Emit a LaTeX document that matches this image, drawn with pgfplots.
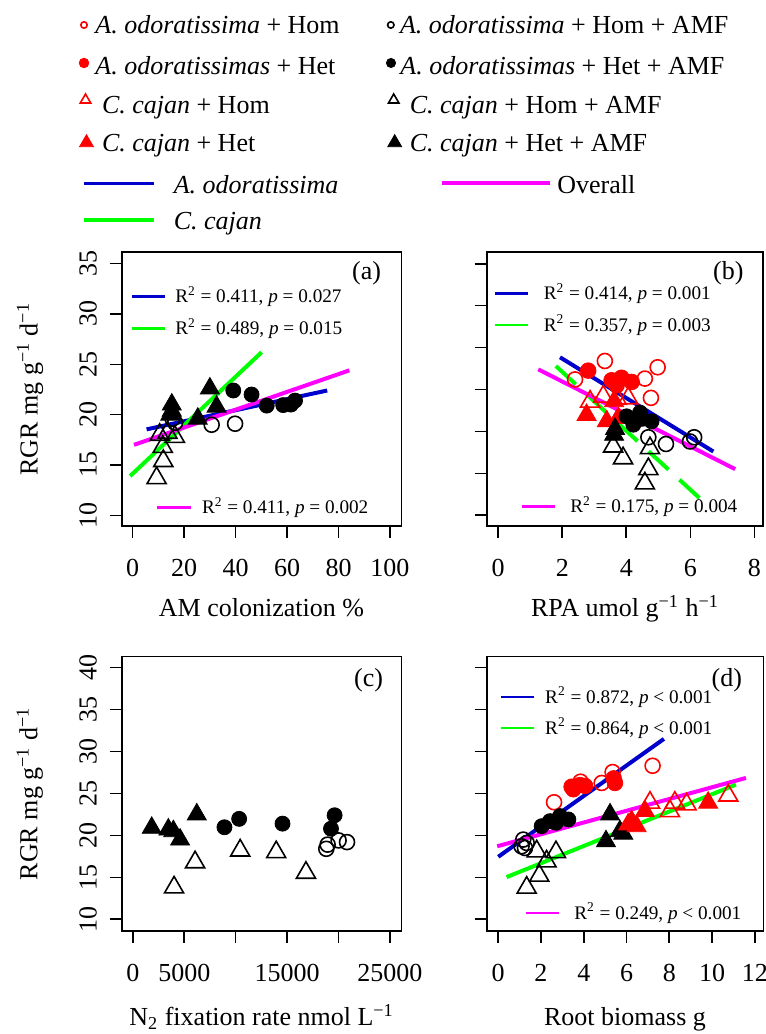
\documentclass[border=0pt]{standalone}
\usepackage{fontspec}
\setmainfont{Liberation Serif}
\usepackage{pgfplots}
\pgfplotsset{compat=1.18}
\definecolor{rblue}{RGB}{0,0,205}
\definecolor{rgreen}{RGB}{0,255,0}
\definecolor{rmag}{RGB}{255,0,255}
\definecolor{rred}{RGB}{255,0,0}
\newcommand{\bigf}{\fontsize{13}{15}\selectfont}
\newcommand{\smallf}{\fontsize{9.6}{11}\selectfont}
\pgfplotsset{
  panel/.style={scale only axis, anchor=south west, clip=false,
    tick align=outside, tick pos=left, major tick length=6pt,
    axis line style={line width=0.8pt}, every tick/.style={black, line width=0.8pt},
    ticklabel style={font=\bigf},
    /pgf/number format/assume math mode=true,
    scaled ticks=false,
    xticklabel style={anchor=base, yshift=-19.5pt},
    yticklabel style={xshift=-6.5pt, rotate=90, anchor=base},
    every axis y label/.style={at={(axis description cs:-0.328,0.5)}, rotate=90, anchor=center, font=\bigf},
  },
  xlab/.style={every axis x label/.style={at={(axis description cs:0.5,#1)}, anchor=base, font=\bigf}},
  aoHom/.style={only marks, mark=o, mark size=3.75pt, color=rred, mark options={line width=0.8pt}},
  aoHet/.style={only marks, mark=*, mark size=3.9pt, color=rred},
  ccHom/.style={only marks, mark=triangle, mark size=5.5pt, color=rred, mark options={line width=0.8pt}},
  ccHet/.style={only marks, mark=triangle*, mark size=5.5pt, color=rred},
  aoHomA/.style={only marks, mark=o, mark size=3.75pt, color=black, mark options={line width=0.8pt}},
  aoHetA/.style={only marks, mark=*, mark size=3.75pt, color=black},
  ccHomA/.style={only marks, mark=triangle, mark size=5.5pt, color=black, mark options={line width=0.8pt}},
  ccHetA/.style={only marks, mark=triangle*, mark size=5.5pt, color=black},
  reg/.style={no marks, line width=2pt},
  legl/.style={no marks, line width=1.3pt},
}
\begin{document}
\begin{tikzpicture}
\path[use as bounding box] (0,0) rectangle (383pt,517pt);

% ---------- top legend ----------
\begin{axis}[at={(0pt,0pt)}, anchor=south west, scale only axis, width=383pt, height=517pt,
  xmin=0, xmax=766, ymin=0, ymax=1034, hide axis, clip=false]
\addplot[aoHom, mark size=1.6pt] coordinates {(84,1009)};
\addplot[aoHomA, mark size=1.6pt] coordinates {(390.8,1009)};
\addplot[aoHet, mark size=2.4pt] coordinates {(84,971)};
\addplot[aoHetA, mark size=2.3pt] coordinates {(391,971)};
\addplot[ccHom, mark size=3pt] coordinates {(85.5,934)};
\addplot[ccHomA, mark size=3pt] coordinates {(393.7,934)};
\addplot[ccHet, mark size=4pt] coordinates {(86.5,891.3)};
\addplot[ccHetA, mark size=4pt] coordinates {(394.7,891.3)};
\addplot[no marks, rblue, line width=1.6pt] coordinates {(84,850.7) (154,850.7)};
\addplot[no marks, rmag, line width=1.6pt] coordinates {(442,851) (550,851)};
\addplot[no marks, rgreen, line width=1.6pt] coordinates {(84,814) (154,814)};
\node[anchor=base west, font=\bigf, inner sep=0pt] at (axis cs:95,1000.7) {\textit{A. odoratissima} + Hom};
\node[anchor=base west, font=\bigf, inner sep=0pt] at (axis cs:399.6,1000.7) {\textit{A. odoratissima} + Hom + AMF};
\node[anchor=base west, font=\bigf, inner sep=0pt] at (axis cs:95,959) {\textit{A. odoratissimas} + Het};
\node[anchor=base west, font=\bigf, inner sep=0pt] at (axis cs:400,959) {\textit{A. odoratissimas} + Het + AMF};
\node[anchor=base west, font=\bigf, inner sep=0pt] at (axis cs:101.6,920.7) {\textit{C. cajan} + Hom};
\node[anchor=base west, font=\bigf, inner sep=0pt] at (axis cs:409.4,920.7) {\textit{C. cajan} + Hom + AMF};
\node[anchor=base west, font=\bigf, inner sep=0pt] at (axis cs:101.6,882.3) {\textit{C. cajan} + Het};
\node[anchor=base west, font=\bigf, inner sep=0pt] at (axis cs:409.4,882.3) {\textit{C. cajan} + Het + AMF};
\node[anchor=base west, font=\bigf, inner sep=0pt] at (axis cs:173.4,840.7) {\textit{A. odoratissima}};
\node[anchor=base west, font=\bigf, inner sep=0pt] at (axis cs:557,840.7) {Overall};
\node[anchor=base west, font=\bigf, inner sep=0pt] at (axis cs:173.4,804) {\textit{C. cajan}};
\end{axis}

% ---------- (a) ----------
\begin{axis}[panel, xlab=-0.329, at={(60.85pt,254pt)}, width=139.8pt, height=136.85pt,
  xmin=-4.27, xmax=104.4, ymin=8.94, ymax=36.13,
  xtick={0,20,...,100}, ytick={10,15,...,35},
  xlabel={AM colonization \%}, ylabel={RGR mg g\textsuperscript{−1} d\textsuperscript{−1}}]
\addplot[ccHomA] coordinates {(9.3,13.7) (11.9,15.4) (11.7,16.8) (16.4,17.8) (13.5,18.2) (10.5,18.0)};
\addplot[ccHetA] coordinates {(15.2,21.0) (15.2,20.4) (14.6,20.0) (30,22.6) (32.6,20.8) (25.3,19.6)};
\addplot[aoHomA] coordinates {(15.5,19.6) (16.5,19.2) (30.7,19.0) (39.8,19.1)};
\addplot[aoHetA] coordinates {(39.1,22.4) (46.2,22.0) (52.1,20.9) (58.5,20.95) (61.5,21.0) (63.1,21.4)};
\addplot[reg, rblue] coordinates {(5.4,18.54) (75.6,22.4)};
\addplot[reg, rgreen] coordinates {(-1.0,13.9) (50.1,26.2)};
\addplot[reg, rmag] coordinates {(0.5,17.0) (84.2,24.4)};
\addplot[legl, rblue] coordinates {(-0.4,31.72) (12.6,31.72)};
\addplot[legl, rgreen] coordinates {(-0.4,28.58) (12.6,28.58)};
\addplot[legl, rmag] coordinates {(9.56,10.79) (22.5,10.79)};
\node[anchor=west, font=\smallf, inner sep=0pt] at (axis cs:16.4,31.72) {R\textsuperscript{2} = 0.411, \textit{p} = 0.027};
\node[anchor=west, font=\smallf, inner sep=0pt] at (axis cs:16.4,28.58) {R\textsuperscript{2} = 0.489, \textit{p} = 0.015};
\node[anchor=west, font=\smallf, inner sep=0pt] at (axis cs:26.8,10.79) {R\textsuperscript{2} = 0.411, \textit{p} = 0.002};
\node[font=\bigf] at (axis cs:90.9,34.05) {(a)};
\end{axis}

% ---------- (b) ----------
\begin{axis}[panel, xlab=-0.329, at={(243.35pt,254pt)}, width=138.3pt, height=136.85pt,
  xmin=-0.36, xmax=8.28, ymin=8.72, ymax=41.36,
  xtick={0,2,...,8}, ytick={10,15,...,40}, yticklabels={},
  xlabel={RPA umol g\textsuperscript{−1} h\textsuperscript{−1}}]
\addplot[aoHom] coordinates {(2.40,26.2) (3.33,28.4) (4.58,26.3) (4.98,27.65) (4.77,24.0)};
\addplot[aoHet] coordinates {(2.81,27.25) (3.54,26.1) (3.70,25.5) (4.17,25.9) (3.85,26.4)};
\addplot[ccHom] coordinates {(2.87,23.55) (3.28,24.15) (4.06,23.95) (3.7,23.9)};
\addplot[ccHet] coordinates {(2.76,21.97) (3.39,21.2) (3.75,21.6) (3.62,23.6)};
\addplot[aoHetA] coordinates {(4.43,22.24) (4.79,21.2) (4.22,20.8) (4.01,21.8) (4.5,21.5)};
\addplot[aoHomA] coordinates {(4.69,19.3) (5.24,18.5) (6.12,19.3) (5.99,18.8)};
\addplot[ccHetA] coordinates {(3.62,19.6) (3.65,20.3)};
\addplot[ccHomA] coordinates {(3.59,18.2) (3.9,16.8) (4.74,18.0) (4.69,15.5) (4.58,13.8)};
\addplot[reg, rblue] coordinates {(1.93,28.84) (6.72,17.6)};
\addplot[reg, rgreen, dash pattern=on 13.5pt off 7.5pt] coordinates {(1.80,27.8) (6.30,12.0)};
\addplot[reg, rmag] coordinates {(1.25,27.4) (7.40,15.5)};
\addplot[legl, rblue] coordinates {(-0.11,36.47) (0.93,36.47)};
\addplot[legl, rgreen] coordinates {(-0.11,32.69) (0.93,32.69)};
\addplot[legl, rmag] coordinates {(0.73,11.04) (1.77,11.04)};
\node[anchor=west, font=\smallf, inner sep=0pt] at (axis cs:1.41,36.47) {R\textsuperscript{2} = 0.414, \textit{p} = 0.001};
\node[anchor=west, font=\smallf, inner sep=0pt] at (axis cs:1.41,32.69) {R\textsuperscript{2} = 0.357, \textit{p} = 0.003};
\node[anchor=west, font=\smallf, inner sep=0pt] at (axis cs:2.24,11.04) {R\textsuperscript{2} = 0.175, \textit{p} = 0.004};
\node[font=\bigf] at (axis cs:7.19,38.86) {(b)};
\end{axis}

% ---------- (c) ----------
\begin{axis}[panel, xlab=-0.345, at={(60.85pt,51.65pt)}, width=139.95pt, height=137pt,
  xmin=-1090, xmax=26150, ymin=8.64, ymax=41.3,
  xtick={0,5000,...,25000}, xticklabels={0,5000,,15000,,25000}, ytick={10,15,...,40},
  xlabel={N\textsubscript{2} fixation rate nmol L\textsuperscript{−1}},
  ylabel={RGR mg g\textsuperscript{−1} d\textsuperscript{−1}}]
\addplot[ccHetA] coordinates {(1832,20.9) (3450,20.7) (3938,20.5) (4591,19.5) (6218,22.5)};
\addplot[ccHomA] coordinates {(4006,13.8) (6053,16.8) (10439,18.2) (13947,18.0) (16842,15.55)};
\addplot[aoHetA] coordinates {(8910,20.97) (10341,21.97) (14561,21.4) (19630,22.4) (19279,20.8)};
\addplot[aoHomA] coordinates {(18821,18.4) (18950,18.9) (20020,19.4) (20838,19.2)};
\node[font=\bigf] at (axis cs:22943,38.54) {(c)};
\end{axis}

% ---------- (d) ----------
\begin{axis}[panel, xlab=-0.345, at={(243.35pt,51.65pt)}, width=138.3pt, height=137pt,
  xmin=-0.54, xmax=12.4, ymin=8.64, ymax=41.3,
  xtick={0,2,...,12}, ytick={10,15,...,40}, yticklabels={},
  xlabel={Root biomass g}]
\addplot[aoHom] coordinates {(2.61,23.95) (3.85,26.4) (4.84,26.25) (5.35,27.55) (7.22,28.3)};
\addplot[aoHet] coordinates {(3.51,25.5) (3.82,26.0) (4.06,25.9) (5.46,26.25) (3.43,25.8) (5.4,26.8)};
\addplot[aoHetA] coordinates {(2.03,21.1) (2.42,21.7) (2.89,22.3) (3.28,21.9) (2.7,21.5)};
\addplot[aoHomA] coordinates {(1.17,19.5) (1.09,18.7) (1.33,19.1) (1.25,18.5)};
\addplot[ccHomA] coordinates {(1.33,13.77) (1.92,15.2) (2.26,16.9) (2.70,18.0) (1.80,18.1)};
\addplot[ccHetA] coordinates {(5.04,19.3) (5.23,22.5) (5.69,20.5) (5.85,20.2)};
\addplot[ccHet] coordinates {(6.24,21.7) (6.47,21.1) (6.86,22.9) (9.82,23.9) (6.08,21.3)};
\addplot[ccHom] coordinates {(7.10,23.9) (8.03,22.9) (8.81,23.7) (10.76,24.75) (8.26,23.9)};
\addplot[reg, rblue] coordinates {(0.0,17.45) (7.75,31.5)};
\addplot[reg, rgreen] coordinates {(0.39,15.03) (11.12,26.05)};
\addplot[reg, rmag] coordinates {(-0.05,18.7) (11.59,26.85)};
\addplot[legl, rblue] coordinates {(0.11,36.48) (1.67,36.48)};
\addplot[legl, rgreen] coordinates {(0.11,32.79) (1.67,32.79)};
\addplot[legl, rmag] coordinates {(1.32,10.75) (2.85,10.75)};
\node[anchor=west, font=\smallf, inner sep=0pt] at (axis cs:2.18,36.48) {R\textsuperscript{2} = 0.872, \textit{p} < 0.001};
\node[anchor=west, font=\smallf, inner sep=0pt] at (axis cs:2.18,32.79) {R\textsuperscript{2} = 0.864, \textit{p} < 0.001};
\node[anchor=west, font=\smallf, inner sep=0pt] at (axis cs:3.54,10.75) {R\textsuperscript{2} = 0.249, \textit{p} < 0.001};
\node[font=\bigf] at (axis cs:10.69,38.54) {(d)};
\end{axis}
\end{tikzpicture}
\end{document}
